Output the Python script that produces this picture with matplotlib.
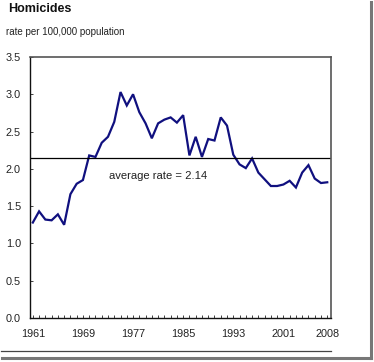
import matplotlib
matplotlib.use("Agg")
import matplotlib.pyplot as plt
from matplotlib.lines import Line2D

years = list(range(1961, 2009))
rates = [1.28, 1.43, 1.32, 1.31, 1.39, 1.25, 1.66, 1.80, 1.85, 2.18,
         2.16, 2.35, 2.43, 2.63, 3.03, 2.85, 3.00, 2.76, 2.61, 2.41,
         2.61, 2.66, 2.69, 2.62, 2.72, 2.18, 2.43, 2.16, 2.40, 2.38,
         2.69, 2.58, 2.19, 2.06, 2.01, 2.14, 1.95, 1.86, 1.77, 1.77,
         1.79, 1.84, 1.75, 1.95, 2.05, 1.87, 1.81, 1.82]
average = 2.14
xtick_years = [1961, 1969, 1977, 1985, 1993, 2001, 2008]
yticks = [0.0, 0.5, 1.0, 1.5, 2.0, 2.5, 3.0, 3.5]

plt.rcParams['font.family'] = ['Liberation Sans', 'DejaVu Sans']

W, H = 374, 362
fig = plt.figure(figsize=(W / 100, H / 100), dpi=100)
ax = fig.add_axes([30 / W, 1 - 318 / H, (331 - 30) / W, (318 - 57) / H])

ax.plot(years, rates, color='#10107f', lw=1.6, solid_joinstyle='miter')
ax.axhline(average, color='black', lw=0.9)
ax.text(1973.2, 1.90, f'average rate = {average:.2f}', fontsize=8.1,
        va='center', ha='left', color='#222222')

ax.set_xlim(1960.55, 2008.6)
ax.set_ylim(0, 3.5)
ax.set_xticks(xtick_years)
ax.set_xticklabels([str(y) for y in xtick_years])
ax.set_xticks(years, minor=True)
ax.set_yticks(yticks)
ax.set_yticklabels([f'{v:.1f}' for v in yticks])
ax.tick_params(axis='x', which='both', direction='in', length=2.5, width=0.6,
               labelsize=7.8, pad=8, colors='#222222')
ax.tick_params(axis='y', direction='in', length=2.5, width=0.6,
               labelsize=7.8, pad=6.5, colors='#222222')
for side in ['left', 'bottom']:
    ax.spines[side].set_color('#111111')
    ax.spines[side].set_linewidth(1.0)
for side in ['top', 'right']:
    ax.spines[side].set_color('#555555')
    ax.spines[side].set_linewidth(1.2)

fig.text(8 / W, 1 - 9 / H, 'Homicides', fontsize=9, fontweight='bold',
         va='center', ha='left', color='#111111')
fig.text(6 / W, 1 - 32 / H, 'rate per 100,000 population', fontsize=7.0,
         va='center', ha='left', color='#222222')

# separator line under the tick labels
fig.add_artist(Line2D([1 / W, 331 / W], [1 - 351 / H, 1 - 351 / H],
                      color='#444444', lw=0.9, transform=fig.transFigure))
# drop-shadow frame
fig.add_artist(Line2D([371 / W, 371 / W], [1 - 2 / H, 1 - 358 / H],
                      color='#777777', lw=2.2, transform=fig.transFigure))
fig.add_artist(Line2D([2 / W, 371 / W], [1 - 358 / H, 1 - 358 / H],
                      color='#777777', lw=2.2, transform=fig.transFigure))

fig.savefig('out.png', dpi=100)
